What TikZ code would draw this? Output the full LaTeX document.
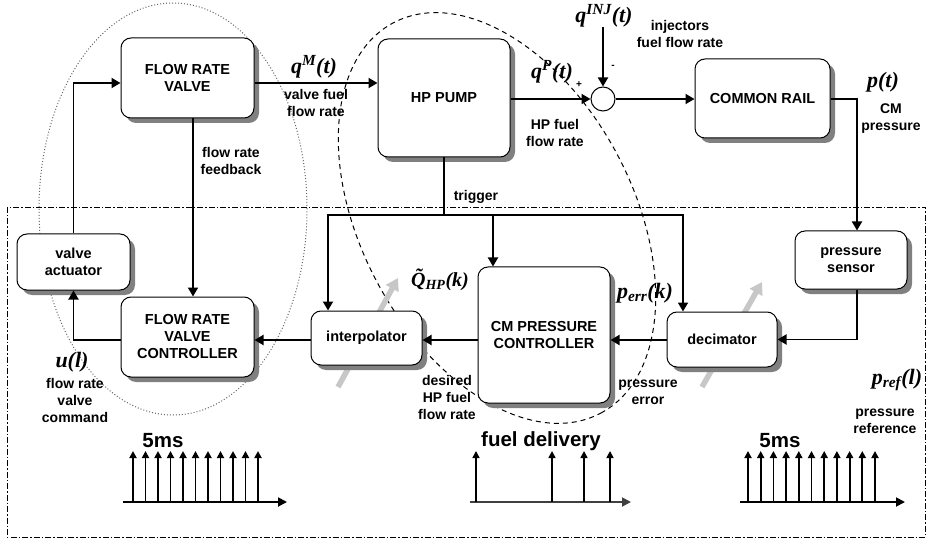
\documentclass[tikz,border=0pt]{standalone}
\usepackage{fontspec}
\setmainfont{Liberation Sans}
\newfontfamily\mathlab{Liberation Serif}
\usetikzlibrary{arrows.meta,shadows}
\begin{document}
\begin{tikzpicture}[x=1pt,y=-1pt,
  lbl/.style={font=\fontsize{14}{17}\selectfont\bfseries, align=center, inner sep=0pt},
  mlbl/.style={font=\fontsize{22}{24}\selectfont\mathlab\bfseries\itshape, inner sep=0pt},
  big/.style={font=\fontsize{20.5}{22}\selectfont\bfseries, inner sep=0pt},
  box/.style={draw, line width=1pt, rounded corners=10pt, fill=white, align=center,
    font=\fontsize{14.5}{17}\selectfont\bfseries, inner sep=0pt,
    drop shadow={shadow xshift=5pt, shadow yshift=-5pt, fill=black!50, opacity=1}},
  conn/.style={line width=1.8pt, -{Triangle[length=9pt,width=10pt]}},
  wire/.style={line width=1.8pt},
  pulse/.style={line width=1.8pt, -{Triangle[length=7pt,width=7pt]}},
  axisarr/.style={line width=1.8pt, -{Triangle[length=9pt,width=9pt]}},
  grayarr/.style={line width=5.5pt, black!22, -{Triangle[length=12pt,width=14pt]}}
]
\useasboundingbox (0,0) rectangle (932,540);

% frames and groupings
\draw[line width=0.8pt, dash pattern=on 6pt off 2pt on 1.5pt off 2pt] (7,207) rectangle (925,537);
\draw[black!60, dotted, line width=1pt] (173,209) ellipse [x radius=134pt, y radius=206pt];
\draw[line width=1pt, dash pattern=on 5pt off 4pt, rotate around={-62:(497,218)}] (497,218) ellipse [x radius=221pt, y radius=136pt];

% gray rate arrows
\draw[grayarr] (338,387) -- (398,278);
\draw[grayarr] (702,387) -- (762,282);

% blocks
\node[box, minimum width=133pt, minimum height=80pt] (frv) at (187.5,78) {FLOW RATE\\VALVE};
\node[box, minimum width=132pt, minimum height=118pt] (pump) at (444,98) {HP PUMP};
\node[draw, circle, line width=1pt, fill=white, minimum size=24pt, inner sep=0pt] (sum) at (603,99) {};
\node[box, minimum width=135pt, minimum height=79pt] (rail) at (762.5,98.5) {COMMON RAIL};
\node[box, minimum width=112pt, minimum height=58pt] (sensor) at (851,260) {pressure\\sensor};
\node[box, minimum width=110pt, minimum height=55pt] (dec) at (722,339.5) {decimator};
\node[box, minimum width=132pt, minimum height=136pt] (cmpc) at (544,335) {CM PRESSURE\\CONTROLLER};
\node[box, minimum width=111pt, minimum height=54pt] (interp) at (366.5,338) {interpolator};
\node[box, minimum width=133pt, minimum height=80pt] (frvc) at (187.5,337) {FLOW RATE\\VALVE\\CONTROLLER};
\node[box, minimum width=113pt, minimum height=56pt] (act) at (73.5,262) {valve\\actuator};

% helper coordinates
\coordinate (qin) at (603,27);
\coordinate (pc) at (857,99);
\coordinate (mid) at (0,340);
\coordinate (tl) at (328,215);
\coordinate (tm) at (493,215);
\coordinate (tr) at (683,215);

% connectors
\draw[conn] (act.north) |- ([yshift=-5pt]frv.west);
\draw[conn] ([yshift=-5pt]frv.east) -- ([yshift=-5pt]frv.east -| pump.west);
\draw[conn] (pump.east |- sum.west) -- (sum.west);
\draw[conn] (qin) -- (sum.north);
\draw[conn] (sum.east) -- (rail.west |- sum.east);
\draw[conn] (rail.east |- pc) -| (pc |- sensor.north);
\draw[conn] (pc |- sensor.south) |- (dec.east);
\draw[conn] (dec.west |- mid) -- (cmpc.east |- mid);
\draw[conn] (cmpc.west |- mid) -- (interp.east |- mid);
\draw[conn] (interp.west |- mid) -- (frvc.east |- mid);
\draw[conn] (frvc.west |- mid) -| (act.south);
\draw[conn] ([xshift=5.5pt]frv.south) -- ([xshift=5.5pt]frvc.north);
\draw[wire] (pump.south) -- (pump.south |- tl);
\draw[line width=1.8pt, {Triangle[length=9pt,width=10pt]}-{Triangle[length=9pt,width=10pt]}]
  (tl |- interp.north) -- (tl) -- (tr) -- (tr |- dec.north);
\draw[conn] (tm) -- (tm |- cmpc.north);

% labels
\node[mlbl] (lqm) at (314,67) {q\textsuperscript{M}(t)};
\node[lbl] (lvf) at (316,103) {valve fuel\\flow rate};
\node[mlbl] (lqp) at (552,72) {q\textsuperscript{P}(t)};
\node[lbl] (lhp) at (555,133) {HP fuel\\flow rate};
\node[font=\fontsize{10}{10}\selectfont\bfseries, inner sep=0pt] (lplus) at (579,85) {+};
\node[font=\fontsize{10}{10}\selectfont\bfseries, inner sep=0pt] (lminus) at (613,67) {-};
\node[mlbl] (lqinj) at (604,16) {q\textsuperscript{INJ}(t)};
\node[lbl] (linj) at (680,34) {injectors\\fuel flow rate};
\node[mlbl] (lp) at (883,82) {p(t)};
\node[lbl] (lcm) at (891,119) {CM\\pressure};
\node[lbl] (lfb) at (231,161) {flow rate\\feedback};
\node[lbl] (ltrig) at (476,197) {trigger};
\node[mlbl, font=\fontsize{20}{22}\selectfont\mathlab\bfseries\itshape] (lq) at (440,280) {\~{Q}\textsubscript{HP}(k)};
\node[mlbl] (lperr) at (645,293) {p\textsubscript{err}(k)};
\node[lbl] (ldes) at (447,397) {desired\\HP fuel\\flow rate};
\node[lbl] (lpe) at (648,392) {pressure\\error};
\node[mlbl] (lu) at (72,362) {u(l)};
\node[lbl] (lcmd) at (75,400) {flow rate\\valve\\command};
\node[mlbl] (lpref) at (897,380) {p\textsubscript{ref}(l)};
\node[lbl] (lpr) at (885,421) {pressure\\reference};

% pulse trains
\node[big] (l5a) at (163,441) {5ms};
\node[big] (lfd) at (541,441) {fuel delivery};
\node[big] (l5b) at (780,441) {5ms};
\draw[axisarr] (123,502) -- (287,502);
\foreach \i in {0,...,10} \draw[pulse] ({133+12.5*\i},502) -- ({133+12.5*\i},451);
\draw[axisarr, black!75] (470,502) -- (631,502);
\foreach \xx in {476,552,584,610} \draw[pulse, line width=1.5pt] (\xx,502) -- (\xx,451);
\draw[axisarr] (740,502) -- (905,502);
\foreach \i in {0,...,10} \draw[pulse] ({748+12.7*\i},502) -- ({748+12.7*\i},451);
\end{tikzpicture}
\end{document}
